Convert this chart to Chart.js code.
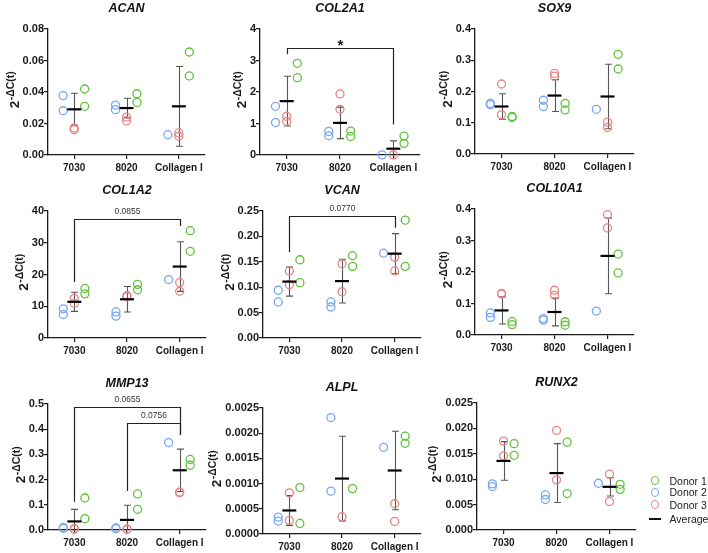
<!DOCTYPE html>
<html>
<head>
<meta charset="utf-8">
<script src="https://cdn.jsdelivr.net/npm/chart.js@4.4.1/dist/chart.umd.min.js"></script>
<style>
  body { margin: 0; background: #fff; }
  #wrap { position: relative; width: 708px; height: 553px; overflow: hidden; font-family: 'Liberation Sans', Arial, sans-serif; }
  #wrap canvas { position: absolute; }
  .lg-dot { position: absolute; width: 8.5px; height: 8.5px; box-sizing: border-box; border: 1.3px solid; border-radius: 50%; }
  .lg-line { position: absolute; width: 12px; height: 2px; background: #111; }
  .lg-text { position: absolute; font-size: 10.5px; line-height: 12px; color: #222; white-space: nowrap; }
</style>
</head>
<body>
<div id="wrap"></div>
<script>
/* ── Data ───────────────────────────────────────────── */
const categories = ['7030', '8020', 'Collagen I'];
const legendLabels = ['Donor 1', 'Donor 2', 'Donor 3', 'Average'];

// ACAN
const acanTicks = ['0.00', '0.02', '0.04', '0.06', '0.08'];
const acanDonor1 = [[0.0419, 0.0309], [0.0389, 0.0334], [0.0654, 0.0502]];
const acanDonor2 = [[0.0377, 0.0281], [0.0317, 0.0288], [0.0129]];
const acanDonor3 = [[0.0171, 0.0161], [0.0241, 0.0218], [0.0140, 0.0119]];
const acanMean = [0.0290, 0.0298, 0.0309];
const acanSd = [0.0102, 0.0062, 0.0253];
const acanSig = [];

// COL2A1
const col2a1Ticks = ['0', '1', '2', '3', '4'];
const col2a1Donor1 = [[2.91, 2.455], [0.76, 0.59], [0.60, 0.37]];
const col2a1Donor2 = [[1.545, 1.03], [0.75, 0.61], [0.005]];
const col2a1Donor3 = [[1.23, 1.07], [1.94, 1.45], [0.005]];
const col2a1Mean = [1.71, 1.02, 0.20];
const col2a1Sd = [0.79, 0.50, 0.25];
const col2a1Sig = [[0, 2, 3.39, 3.20, 0.97, '*']];

// SOX9
const sox9Ticks = ['0.0', '0.1', '0.2', '0.3', '0.4'];
const sox9Donor1 = [[0.120, 0.117], [0.162, 0.141], [0.319, 0.272]];
const sox9Donor2 = [[0.162, 0.158], [0.172, 0.152], [0.143]];
const sox9Donor3 = [[0.224, 0.126], [0.258, 0.249], [0.102, 0.085]];
const sox9Mean = [0.152, 0.187, 0.184];
const sox9Sd = [0.041, 0.051, 0.103];
const sox9Sig = [];

// COL1A2
const col1a2Ticks = ['0', '10', '20', '30', '40'];
const col1a2Donor1 = [[15.6, 13.9], [16.9, 15.2], [33.8, 27.3]];
const col1a2Donor2 = [[9.2, 7.4], [8.2, 6.9], [18.4]];
const col1a2Donor3 = [[12.5, 10.9], [13.4, 13.0], [17.5, 14.7]];
const col1a2Mean = [11.4, 12.2, 22.5];
const col1a2Sd = [3.0, 4.0, 7.8];
const col1a2Sig = [[0, 2, 37.4, 17.6, 35.3, '0.0855']];

// VCAN
const vcanTicks = ['0.00', '0.05', '0.10', '0.15', '0.20', '0.25'];
const vcanDonor1 = [[0.154, 0.109], [0.162, 0.141], [0.232, 0.141]];
const vcanDonor2 = [[0.094, 0.071], [0.071, 0.061], [0.167]];
const vcanDonor3 = [[0.132, 0.105], [0.146, 0.091], [0.159, 0.132]];
const vcanMean = [0.111, 0.112, 0.166];
const vcanSd = [0.0285, 0.043, 0.0395];
const vcanSig = [[0, 2, 0.241, 0.169, 0.217, '0.0770']];

// COL10A1
const col10a1Ticks = ['0.0', '0.1', '0.2', '0.3', '0.4'];
const col10a1Donor1 = [[0.043, 0.033], [0.042, 0.031], [0.257, 0.197]];
const col10a1Donor2 = [[0.070, 0.056], [0.052, 0.047], [0.076]];
const col10a1Donor3 = [[0.132, 0.130], [0.142, 0.126], [0.382, 0.340]];
const col10a1Mean = [0.078, 0.073, 0.251];
const col10a1Sd = [0.043, 0.044, 0.120];
const col10a1Sig = [];

// MMP13
const mmp13Ticks = ['0.0', '0.1', '0.2', '0.3', '0.4', '0.5'];
const mmp13Donor1 = [[0.127, 0.045], [0.143, 0.082], [0.280, 0.257]];
const mmp13Donor2 = [[0.010, 0.007], [0.008, 0.006], [0.347]];
const mmp13Donor3 = [[0.005, 0.004], [0.003, 0.003], [0.151, 0.148]];
const mmp13Mean = [0.034, 0.040, 0.237];
const mmp13Sd = [0.048, 0.058, 0.084];
const mmp13Sig = [
  [0, 2, 0.487, 0.112, 0.377, '0.0655'],
  [1, 2, 0.423, 0.155, 0.377, '0.0756']
];

// ALPL
const alplTicks = ['0.0000', '0.0005', '0.0010', '0.0015', '0.0020', '0.0025'];
const alplDonor1 = [[0.000921, 0.00021], [0.000901], [0.00194, 0.00180]];
const alplDonor2 = [[0.000336, 0.000257], [0.00231, 0.000849], [0.00172]];
const alplDonor3 = [[0.000816, 0.00027], [0.000342], [0.00060, 0.00025]];
const alplMean = [0.000467, 0.00110, 0.00126];
const alplSd = [0.000295, 0.00084, 0.00078];
const alplSig = [];

// RUNX2
const runx2Ticks = ['0.000', '0.005', '0.010', '0.015', '0.020', '0.025'];
const runx2Donor1 = [[0.0170, 0.0147], [0.0173, 0.00717], [0.0090, 0.0080]];
const runx2Donor2 = [[0.00908, 0.00855], [0.0069, 0.0060], [0.0092]];
const runx2Donor3 = [[0.0175, 0.0146], [0.0196, 0.00987], [0.0110, 0.0056]];
const runx2Mean = [0.0136, 0.0112, 0.0085];
const runx2Sd = [0.0038, 0.0058, 0.0018];
const runx2Sig = [];

/* ── Styling ────────────────────────────────────────── */
const FONT = "'Liberation Sans', Arial, sans-serif";
const donorColors = ['#5fc23a', '#77a6f3', '#e88383'];
const donorShift = [0.2, -0.21, 0];      // horizontal spread of donors, in category units
const INK = '#1a1a1a';

// chart area box of each panel: [left, top, right, bottom] in page pixels
const panels = [
  { title: 'ACAN', ticks: acanTicks, donors: [acanDonor1, acanDonor2, acanDonor3], mean: acanMean, sd: acanSd, sig: acanSig, box: [48, 29, 205, 155] },
  { title: 'COL2A1', ticks: col2a1Ticks, donors: [col2a1Donor1, col2a1Donor2, col2a1Donor3], mean: col2a1Mean, sd: col2a1Sd, sig: col2a1Sig, box: [260, 29, 420, 155] },
  { title: 'SOX9', ticks: sox9Ticks, donors: [sox9Donor1, sox9Donor2, sox9Donor3], mean: sox9Mean, sd: sox9Sd, sig: sox9Sig, box: [475, 29, 634, 154] },
  { title: 'COL1A2', ticks: col1a2Ticks, donors: [col1a2Donor1, col1a2Donor2, col1a2Donor3], mean: col1a2Mean, sd: col1a2Sd, sig: col1a2Sig, box: [48, 211, 206, 338] },
  { title: 'VCAN', ticks: vcanTicks, donors: [vcanDonor1, vcanDonor2, vcanDonor3], mean: vcanMean, sd: vcanSd, sig: vcanSig, box: [263, 211, 421, 338] },
  { title: 'COL10A1', ticks: col10a1Ticks, donors: [col10a1Donor1, col10a1Donor2, col10a1Donor3], mean: col10a1Mean, sd: col10a1Sd, sig: col10a1Sig, box: [475, 209, 634, 335] },
  { title: 'MMP13', ticks: mmp13Ticks, donors: [mmp13Donor1, mmp13Donor2, mmp13Donor3], mean: mmp13Mean, sd: mmp13Sd, sig: mmp13Sig, box: [48, 404, 206, 530] },
  { title: 'ALPL', ticks: alplTicks, donors: [alplDonor1, alplDonor2, alplDonor3], mean: alplMean, sd: alplSd, sig: alplSig, box: [263, 408, 421, 534] },
  { title: 'RUNX2', ticks: runx2Ticks, donors: [runx2Donor1, runx2Donor2, runx2Donor3], mean: runx2Mean, sd: runx2Sd, sig: runx2Sig, box: [477, 403, 636, 530] }
];

const Y_W = 60, X_H = 22, TOP_H = 32, RIGHT_PAD = 12;

/* ── Error bars, brackets and the y title ───────────── */
function panelExtras(p) {
  return {
    id: 'extras',
    beforeDatasetsDraw(chart) {
      const { ctx, chartArea: a, scales: { x, y } } = chart;
      ctx.save();
      ctx.strokeStyle = '#555';
      ctx.lineWidth = 1.1;
      p.mean.forEach((m, i) => {
        const px = Math.round(x.getPixelForValue(i)) + 0.5;
        const top = y.getPixelForValue(m + p.sd[i]);
        const low = m - p.sd[i];
        const bot = Math.min(y.getPixelForValue(low), a.bottom);
        ctx.beginPath();
        ctx.moveTo(px, top); ctx.lineTo(px, bot);
        ctx.moveTo(px - 3.5, top); ctx.lineTo(px + 3.5, top);
        if (low > 0) { ctx.moveTo(px - 3.5, bot); ctx.lineTo(px + 3.5, bot); }
        ctx.stroke();
      });
      ctx.restore();
    },
    afterDraw(chart) {
      const { ctx, chartArea: a, scales: { x, y } } = chart;
      ctx.save();
      // significance brackets
      ctx.strokeStyle = '#222';
      ctx.fillStyle = '#333';
      ctx.lineWidth = 1.2;
      ctx.textAlign = 'center';
      p.sig.forEach(([from, to, yv, l, r, label]) => {
        const xa = Math.round(x.getPixelForValue(from)) + 0.5;
        const xb = Math.round(x.getPixelForValue(to)) + 0.5;
        const yb = Math.round(y.getPixelForValue(yv)) + 0.5;
        ctx.beginPath();
        ctx.moveTo(xa, y.getPixelForValue(l));
        ctx.lineTo(xa, yb);
        ctx.lineTo(xb, yb);
        ctx.lineTo(xb, y.getPixelForValue(r));
        ctx.stroke();
        if (label === '*') {
          ctx.font = 'bold 15px ' + FONT;
          ctx.fillStyle = INK;
          ctx.textBaseline = 'alphabetic';
          ctx.fillText('*', (xa + xb) / 2, yb + 1);
        } else {
          ctx.font = '8.5px ' + FONT;
          ctx.fillStyle = '#333';
          ctx.textBaseline = 'middle';
          ctx.fillText(label, (xa + xb) / 2, yb - 8);
        }
      });
      // y title 2^-ΔC(t), placed left of the widest tick label
      ctx.font = 'bold 11px ' + FONT;
      const w = Math.max(...p.ticks.map(t => ctx.measureText(t).width));
      const bx = a.left - 4 - w - 4;
      const cy = (a.top + a.bottom) / 2 - 2;
      ctx.fillStyle = INK;
      ctx.textAlign = 'left';
      ctx.textBaseline = 'alphabetic';
      ctx.translate(bx, cy);
      ctx.rotate(-Math.PI / 2);
      ctx.font = 'bold 13.5px ' + FONT;
      const w2 = ctx.measureText('2').width;
      ctx.font = 'bold 10.5px ' + FONT;
      const w3 = ctx.measureText('-ΔC(t)').width;
      const start = -(w2 + w3) / 2;
      ctx.font = 'bold 13.5px ' + FONT;
      ctx.fillText('2', start, 0);
      ctx.font = 'bold 10.5px ' + FONT;
      ctx.fillText('-ΔC(t)', start + w2 + 0.5, -5);
      ctx.restore();
    }
  };
}

/* ── Build the nine panels ──────────────────────────── */
const wrap = document.getElementById('wrap');

panels.forEach(p => {
  const [L, T, R, B] = p.box;
  const canvas = document.createElement('canvas');
  canvas.width = Y_W + (R - L) + RIGHT_PAD;
  canvas.height = TOP_H + (B - T) + X_H;
  canvas.style.left = (L - Y_W) + 'px';
  canvas.style.top = (T - TOP_H) + 'px';
  wrap.appendChild(canvas);

  const tickValues = p.ticks.map(Number);

  const datasets = [{
    label: legendLabels[3],
    data: p.mean.map((m, i) => ({ x: i, y: m })),
    pointStyle: 'line',
    radius: 7,
    borderWidth: 2.2,
    borderColor: '#000',
    order: 0,
    clip: false
  }];
  p.donors.forEach((groups, d) => {
    const pts = [];
    groups.forEach((vals, i) => vals.forEach(v => pts.push({ x: i + donorShift[d], y: v })));
    datasets.push({
      label: legendLabels[d],
      data: pts,
      pointStyle: 'circle',
      radius: 4,
      borderWidth: 1.3,
      borderColor: donorColors[d],
      backgroundColor: 'rgba(0,0,0,0)',
      order: 1,
      clip: false
    });
  });

  new Chart(canvas, {
    type: 'scatter',
    data: { datasets },
    options: {
      responsive: false,
      animation: false,
      events: [],
      layout: { padding: { left: 0, right: RIGHT_PAD, top: 0, bottom: 0 } },
      plugins: {
        legend: { display: false },
        tooltip: { enabled: false },
        title: {
          display: true,
          text: p.title,
          fullSize: false,
          color: '#111',
          font: { family: FONT, size: 12.5, weight: 'bold', style: 'italic', lineHeight: 1.2 },
          padding: { top: 4, bottom: 13 }
        }
      },
      scales: {
        x: {
          type: 'linear',
          min: -0.5,
          max: 2.5,
          afterBuildTicks: s => { s.ticks = categories.map((c, i) => ({ value: i })); },
          afterFit: s => { s.height = X_H; },
          ticks: {
            callback: v => categories[v],
            autoSkip: false,
            maxRotation: 0,
            padding: 3,
            color: INK,
            font: { family: FONT, size: 10, weight: 'bold' }
          },
          grid: { display: true, drawOnChartArea: false, drawTicks: true, tickLength: 4, color: INK, lineWidth: 1.2 },
          border: { display: true, color: INK, width: 1.3 }
        },
        y: {
          type: 'linear',
          min: 0,
          max: tickValues[tickValues.length - 1],
          afterBuildTicks: s => { s.ticks = tickValues.map(v => ({ value: v })); },
          afterFit: s => { s.width = Y_W; },
          ticks: {
            callback: (v, i) => p.ticks[i],
            padding: 0,
            color: INK,
            font: { family: FONT, size: 11, weight: 'bold' }
          },
          grid: { display: true, drawOnChartArea: false, drawTicks: true, tickLength: 4, color: INK, lineWidth: 1.2 },
          border: { display: true, color: INK, width: 1.3 }
        }
      }
    },
    plugins: [panelExtras(p)]
  });
});

/* ── Legend beside RUNX2 ────────────────────────────── */
const legendRows = [480.7, 492.3, 504.7, 519];
legendLabels.forEach((txt, i) => {
  const y = legendRows[i];
  if (i < 3) {
    const dot = document.createElement('div');
    dot.className = 'lg-dot';
    dot.style.borderColor = donorColors[i];
    dot.style.left = (655 - 4.25) + 'px';
    dot.style.top = (y - 4.25) + 'px';
    wrap.appendChild(dot);
  } else {
    const line = document.createElement('div');
    line.className = 'lg-line';
    line.style.left = '649px';
    line.style.top = (y - 1) + 'px';
    wrap.appendChild(line);
  }
  const t = document.createElement('div');
  t.className = 'lg-text';
  t.textContent = txt;
  t.style.left = '669.5px';
  t.style.top = (y - 6) + 'px';
  wrap.appendChild(t);
});
</script>
</body>
</html>
